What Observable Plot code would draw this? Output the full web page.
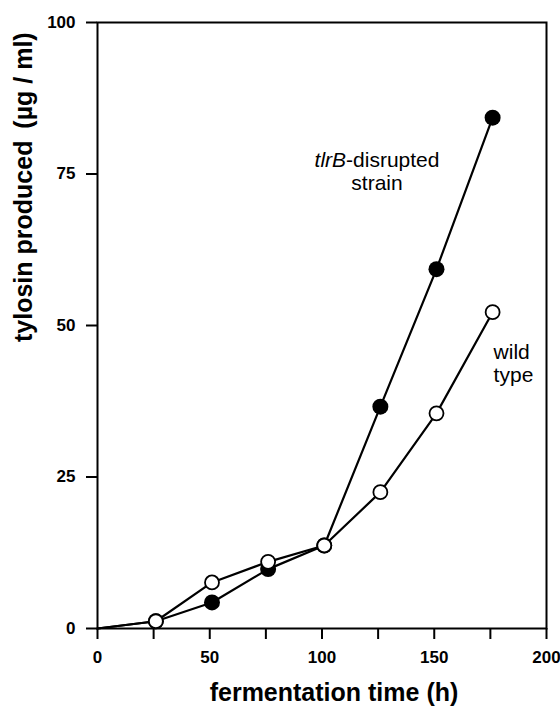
<!DOCTYPE html>
<html><head><meta charset="utf-8">
<script src="https://cdn.jsdelivr.net/npm/d3@7"></script>
<script src="https://cdn.jsdelivr.net/npm/@observablehq/plot@0.6"></script>
<style>
html,body{margin:0;padding:0;background:#fff;}
#chart svg{display:block;}
</style>
</head><body><div id="chart"></div>
<script>
const hours = [0, 26, 51, 76, 101, 126, 151, 176];
const tlrBDisrupted = [0, 1.2, 4.3, 9.8, 13.7, 36.6, 59.3, 84.3];
const wildType = [0, 1.2, 7.6, 11.0, 13.7, 22.5, 35.5, 52.2];
const xTicks = [0, 25, 50, 75, 100, 125, 150, 175, 200];
const xTickLabels = ["0", "", "50", "", "100", "", "150", "", "200"];
const yTicks = [0, 25, 50, 75, 100];
const yTickLabels = ["0", "25", "50", "75", "100"];
const xTitle = "fermentation time (h)";
const yTitle = "tylosin produced \u2009(\u00B5g / ml)";
const seriesLabels = ["tlrB-disrupted\nstrain", "wild\ntype"];

const rows = s => hours.map((h, i) => ({h, v: s[i]}));
const tl = rows(tlrBDisrupted), wt = rows(wildType);
const marked = r => r.filter(d => d.h > 0);
const font = "'Liberation Sans', Arial, Helvetica, sans-serif";

const chart = Plot.plot({
  width: 560, height: 709,
  marginLeft: 97, marginRight: 14, marginTop: 22, marginBottom: 81,
  style: {fontFamily: font, background: "white", color: "black"},
  x: {domain: [0, 200], label: null},
  y: {domain: [0, 100], label: null},
  marks: [
    Plot.axisX(xTicks, {tickSize: 11, tickPadding: 11, tickFormat: d => xTickLabels[xTicks.indexOf(d)], fontSize: 17, fontWeight: "bold", strokeWidth: 2, label: null}),
    Plot.axisY(yTicks, {tickSize: 11, tickPadding: 11, tickFormat: d => yTickLabels[yTicks.indexOf(d)], fontSize: 17, fontWeight: "bold", strokeWidth: 2, label: null}),
    Plot.frame({strokeWidth: 2}),
    Plot.line(tl, {x: "h", y: "v", strokeWidth: 2.2}),
    Plot.line(wt, {x: "h", y: "v", strokeWidth: 2.2}),
    Plot.dot(marked(tl), {x: "h", y: "v", r: 8, fill: "black", stroke: "none"}),
    Plot.dot(marked(wt), {x: "h", y: "v", r: 7, fill: "white", stroke: "black", strokeWidth: 1.8}),
    Plot.text([tl[6]], {x: "h", y: "v", text: () => seriesLabels[0], dx: -59.5, dy: -79, lineAnchor: "bottom", textAnchor: "middle", lineHeight: 1.12, fontSize: 21}),
    Plot.text([wt[7]], {x: "h", y: "v", text: () => seriesLabels[1], dx: 1, dy: 70, lineAnchor: "bottom", textAnchor: "start", lineHeight: 1.12, fontSize: 21}),
    Plot.text([xTitle], {frameAnchor: "bottom", text: d => d, dx: 12, dy: 72, lineAnchor: "bottom", fontSize: 25, fontWeight: "bold"}),
    Plot.text([yTitle], {frameAnchor: "left", text: d => d, rotate: -90, dx: -65.5, dy: 16.5, lineAnchor: "bottom", fontSize: 25, fontWeight: "bold"})
  ]
});

// italicise the gene name
chart.querySelectorAll("tspan, text").forEach(el => {
  if (el.childNodes.length === 1 && el.textContent === "tlrB-disrupted") {
    const ns = "http://www.w3.org/2000/svg";
    el.textContent = "";
    const it = document.createElementNS(ns, "tspan");
    it.setAttribute("font-style", "italic");
    it.textContent = "tlrB";
    el.appendChild(it);
    el.appendChild(document.createTextNode("-disrupted"));
  }
});
document.getElementById("chart").appendChild(chart);
</script>
</body></html>
